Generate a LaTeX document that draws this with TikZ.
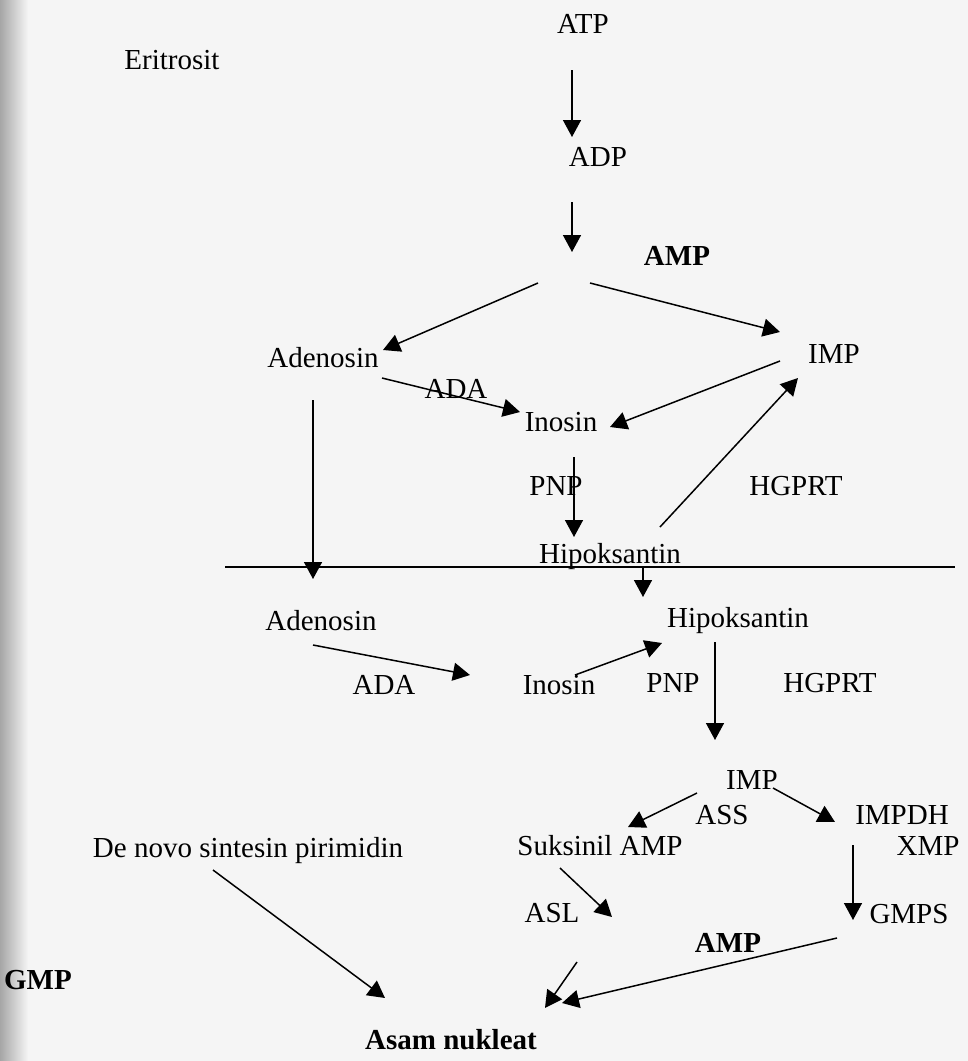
\documentclass[tikz,border=0pt]{standalone}
\usepackage{fontspec}
\setmainfont{Liberation Serif}
\usetikzlibrary{arrows.meta}

\begin{document}
\begin{tikzpicture}[
    x=1pt, y=-1pt,
    term/.style={font=\fontsize{29}{34}\selectfont, inner sep=2pt, text height=20pt, text depth=6pt},
    bterm/.style={term, font=\fontsize{29}{34}\selectfont\bfseries},
    arrow/.style={-{Triangle[length=17pt, width=18pt]}, line width=1.5pt}
]
% page
\fill[black!4] (0,0) rectangle (968,1061);
\shade[left color=black!35, right color=black!4] (0,0) rectangle (28,1061);
\useasboundingbox (0,0) rectangle (968,1061);

% upper part
\node[term] (atp) at (583,26) {ATP};
\node[term] (eri) at (172,62) {Eritrosit};
\node[term] (adp) at (598,159) {ADP};
\node[bterm] (amp) at (677,258) {AMP};
\node[term] (ado) at (323,360) {Adenosin};
\node[term] (imp) at (834,356) {IMP};
\node[term] (ada) at (456,391) {ADA};
\node[term] (ino) at (561,424) {Inosin};
\node[term] (pnp) at (556,488) {PNP};
\node[term] (hgprt) at (796,488) {HGPRT};
\node[term] (hip) at (610,556) {Hipoksantin};

% lower part
\node[term] (ado2) at (321,623) {Adenosin};
\node[term] (hip2) at (738,620) {Hipoksantin};
\node[term] (ada2) at (384,687) {ADA};
\node[term] (ino2) at (559,687) {Inosin};
\node[term] (pnp2) at (673,685) {PNP};
\node[term] (hgprt2) at (830,685) {HGPRT};
\node[term] (imp2) at (752,782) {IMP};
\node[term] (ass) at (722,817) {ASS};
\node[term] (impdh) at (902,817) {IMPDH};
\node[term] (xmp) at (928,848) {XMP};
\node[term] (samp) at (600,848) {Suksinil AMP};
\node[term] (denovo) at (248,850) {De novo sintesin pirimidin};
\node[term] (asl) at (552,915) {ASL};
\node[term] (gmps) at (909,916) {GMPS};
\node[bterm] (amp2) at (728,945) {AMP};
\node[bterm] (gmp) at (38,982) {GMP};
\node[bterm] (asam) at (451,1042) {Asam nukleat};

% divider
\draw[line width=1.5pt] (225,567) -- (955,567);

% connectors
\draw[arrow] ([shift={(-11,44)}]atp.center) -- ([shift={(-26,-22)}]adp.center);
\draw[arrow] ([shift={(-26,43)}]adp.center) -- ([shift={(-105,-6)}]amp.center);
\draw[arrow] ([shift={(-139,25)}]amp.center) -- ([shift={(60,-10)}]ado.center);
\draw[arrow] ([shift={(-87,25)}]amp.center) -- ([shift={(-54,-24)}]imp.center);
\draw[arrow] ([shift={(59,18)}]ado.center) -- ([shift={(-41,-12)}]ino.center);
\draw[arrow] ([shift={(-54,5)}]imp.center) -- ([shift={(49,3)}]ino.center);
\draw[arrow] ([shift={(13,33)}]ino.center) -- ([shift={(-36,-19)}]hip.center);
\draw[arrow] ([shift={(50,-29)}]hip.center) -- ([shift={(-36,22)}]imp.center);
\draw[arrow] ([shift={(-10,40)}]ado.center) -- ([shift={(-8,-44)}]ado2.center);
\draw[arrow] ([shift={(33,11)}]hip.center) -- ([shift={(-95,-23)}]hip2.center);
\draw[arrow] ([shift={(-8,22)}]ado2.center) -- ([shift={(-89,-12)}]ino2.center);
\draw[arrow] ([shift={(16,-12)}]ino2.center) -- ([shift={(-76,23)}]hip2.center);
\draw[arrow] ([shift={(-23,22)}]hip2.center) -- ([shift={(-37,-42)}]imp2.center);
\draw[arrow] ([shift={(-55,11)}]imp2.center) -- ([shift={(28,-21)}]samp.center);
\draw[arrow] ([shift={(21,6)}]imp2.center) -- ([shift={(-67,5)}]impdh.center);
\draw[arrow] ([shift={(-75,-3)}]xmp.center) -- ([shift={(-56,4)}]gmps.center);
\draw[arrow] ([shift={(-40,20)}]samp.center) -- ([shift={(60,2)}]asl.center);
\draw[arrow] ([shift={(-35,20)}]denovo.center) -- ([shift={(-66,-44)}]asam.center);
\draw[arrow] ([shift={(25,47)}]asl.center) -- ([shift={(94,-34)}]asam.center);
\draw[arrow] ([shift={(-72,22)}]gmps.center) -- ([shift={(111,-39)}]asam.center);
\end{tikzpicture}
\end{document}
